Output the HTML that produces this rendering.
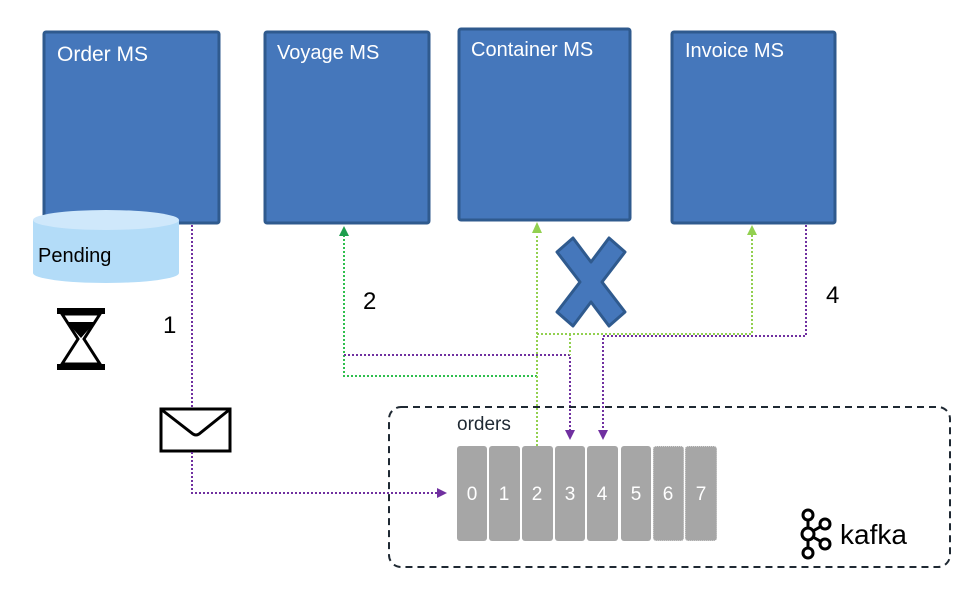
<!DOCTYPE html>
<html><head><meta charset="utf-8"><style>
html,body{margin:0;padding:0;background:#fff;width:974px;height:590px;overflow:hidden}
svg text{font-family:"Liberation Sans",Arial,sans-serif}
</style></head><body>
<svg width="974" height="590" viewBox="0 0 974 590" xmlns="http://www.w3.org/2000/svg">
<defs>
<marker id="ap" markerWidth="10" markerHeight="10" refX="6" refY="5" orient="auto" markerUnits="userSpaceOnUse"><path d="M0,0 L10,5 L0,10 z" fill="#7030A0"/></marker>
</defs>
<g fill="#4577BB" stroke="#2F5A8E" stroke-width="3">
<rect x="44" y="32" width="175" height="191" rx="2"/>
<rect x="265" y="32" width="164" height="191" rx="2"/>
<rect x="459" y="29" width="171" height="191" rx="2"/>
<rect x="672" y="32" width="163" height="191" rx="2"/>
</g>
<g fill="#fff" font-size="20">
<text x="57" y="61" font-size="21">Order MS</text>
<text x="277" y="59">Voyage MS</text>
<text x="471" y="56">Container MS</text>
<text x="685" y="57">Invoice MS</text>
</g>
<path d="M33,220 L33,273 A73,10 0 0 0 179,273 L179,220 Z" fill="#B3DCF8"/>
<ellipse cx="106" cy="220" rx="73" ry="10" fill="#CFE8FB"/>
<text x="38" y="262" font-size="20" fill="#000">Pending</text>
<g fill="#000">
<rect x="57" y="308" width="48" height="6"/>
<rect x="57" y="364" width="48" height="6"/>
<path d="M62,314 L100,314 L84,339 L100,364 L62,364 L78,339 Z" fill="none" stroke="#000" stroke-width="3"/>
<path d="M67,322 L95,322 L81,338 Z"/>
</g>
<text x="163" y="333" font-size="24">1</text>
<text x="363" y="309" font-size="24">2</text>
<text x="826" y="303" font-size="24">4</text>
<rect x="161" y="409" width="69" height="42" fill="#fff" stroke="#000" stroke-width="3"/>
<path d="M162,410 L193,434 Q196,436 199,434 L229,410" fill="none" stroke="#000" stroke-width="3"/>
<path d="M557,252 L573,238 L591,262 L609,238 L625,252 L602,282 L625,312 L609,326 L591,302 L573,326 L557,312 L580,282 Z" fill="#4577BB" stroke="#2F5A8E" stroke-width="3" stroke-linejoin="round"/>
<g fill="none" stroke-width="2" stroke-dasharray="2,2">
<path d="M192,225 L192,408 M192,452 L192,493 L443,493" stroke="#7030A0" marker-end="url(#ap)"/>
<path d="M344,235 L344,376 L537,376" stroke="#2EBF4E"/>
<path d="M344,355 L570,355 L570,436" stroke="#7030A0" marker-end="url(#ap)"/>
<path d="M537,446 L537,234" stroke="#92D050"/>
<path d="M537,334 L752,334 L752,235" stroke="#92D050"/>
<path d="M570,334 L570,355" stroke="#92D050"/>
<path d="M806,225 L806,336 L603,336 L603,436" stroke="#7030A0" marker-end="url(#ap)"/>
</g>
<path d="M344,226 L339,236 L349,236 Z" fill="#1E9E4E"/>
<path d="M537,222 L532,233 L542,233 Z" fill="#92D050"/>
<path d="M752,225 L747,235 L757,235 Z" fill="#92D050"/>
<rect x="389" y="407" width="561" height="160" rx="12" fill="none" stroke="#1F2933" stroke-width="2" stroke-dasharray="7,5"/>
<text x="457" y="430" font-size="19" fill="#1F2933">orders</text>
<g fill="#A6A6A6">
<rect x="457" y="446" width="30" height="95" rx="3"/>
<rect x="489" y="446" width="31" height="95" rx="3"/>
<rect x="522" y="446" width="31" height="95" rx="3"/>
<rect x="555" y="446" width="30" height="95" rx="3"/>
<rect x="587" y="446" width="31" height="95" rx="3"/>
<rect x="621" y="446" width="30" height="95" rx="3"/>
<rect x="653" y="446" width="31" height="95" rx="3" stroke="#fff" stroke-dasharray="1,1"/>
<rect x="685" y="446" width="32" height="95" rx="3" stroke="#fff" stroke-dasharray="1,1"/>
</g>
<g fill="#fff" font-size="19" text-anchor="middle">
<text x="472" y="500">0</text><text x="504" y="500">1</text><text x="537" y="500">2</text><text x="570" y="500">3</text><text x="602" y="500">4</text><text x="636" y="500">5</text><text x="668" y="500">6</text><text x="701" y="500">7</text>
</g>
<g fill="none" stroke="#000" stroke-width="3">
<circle cx="808" cy="515" r="5"/><circle cx="808" cy="534" r="6"/><circle cx="808" cy="553" r="5"/>
<circle cx="825" cy="524" r="5"/><circle cx="825" cy="544" r="5"/>
<path d="M808,520 L808,528 M808,540 L808,548 M813,531 L820,527 M813,537 L820,541"/>
</g>
<text x="840" y="544" font-size="28" fill="#000">kafka</text>
</svg>
</body></html>
